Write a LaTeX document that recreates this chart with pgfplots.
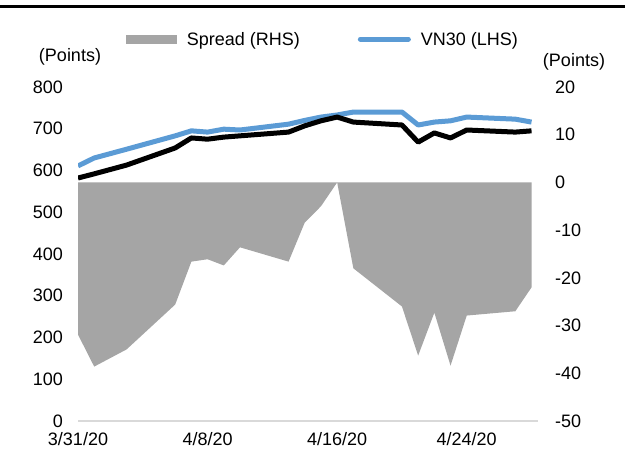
\documentclass[border=0pt]{standalone}
\usepackage{fontspec}
\setmainfont{Liberation Sans}
\usepackage{pgfplots}
\pgfplotsset{compat=1.18}

\definecolor{vnblue}{HTML}{5B9BD5}
\definecolor{spreadgray}{HTML}{A5A5A5}
\definecolor{axisgray}{HTML}{D9D9D9}

\newcommand{\chartfont}{\fontsize{18bp}{21bp}\selectfont}

% day index from 3/31/20; VN30 and VN30F1M (LHS), spread (RHS)
\pgfplotstableread{
day vn30 fut
0  611 582
1  630 592
3  651 613
6  683 654
7  695 678
8  692 675
9  699 680
10 697 683
13 711 692
14 720 707
15 728 719
16 733 728
17 740 716
20 740 709
21 709 668
22 716 690
23 719 678
24 728 697
27 723 692
28 716 695
}\lines

\pgfplotstableread{
day spread
0  0
0  -31.9
1  -38.6
3  -35.0
6  -25.6
7  -16.6
8  -16.1
9  -17.4
10 -13.6
13 -16.6
14 -8.4
15 -5.0
16 0
17 -18.0
20 -26.0
21 -36.3
22 -27.3
23 -38.4
24 -27.9
27 -27.0
28 -22.0
28 0
}\spread

\begin{document}
\begin{tikzpicture}
\path[use as bounding box] (0bp,0bp) rectangle (625bp,467bp);
\draw[line width=2.5bp] (0bp,460.5bp) -- (625bp,460.5bp);

% right axis: spread area
\begin{axis}[
    at={(78bp,46bp)}, anchor=south west,
    scale only axis, width=460bp, height=334bp,
    xmin=0, xmax=28.4,
    ymin=-50, ymax=20,
    hide x axis,
    axis y line*=right,
    y axis line style={draw=none},
    major tick length=0pt,
    ytick={-50,-40,-30,-20,-10,0,10,20},
    yticklabels={-50,-40,-30,-20,-10,0,10,20},
    yticklabel style={font=\chartfont, anchor=west, inner sep=0pt, xshift=17bp},
]
\addplot[fill=spreadgray, draw=none] table[x=day, y=spread] {\spread};
\end{axis}

% left axis: index lines
\begin{axis}[
    at={(78bp,46bp)}, anchor=south west,
    scale only axis, width=460bp, height=334bp,
    xmin=0, xmax=28.4,
    ymin=0, ymax=800,
    axis x line*=bottom,
    axis y line*=left,
    x axis line style={draw=axisgray, line width=1.5bp},
    y axis line style={draw=none},
    major tick length=0pt,
    xtick={0,8,16,24},
    xticklabels={3/31/20,4/8/20,4/16/20,4/24/20},
    xticklabel style={font=\chartfont, anchor=north, inner sep=0pt, yshift=-11bp},
    ytick={0,100,...,800},
    yticklabels={0,100,200,300,400,500,600,700,800},
    yticklabel style={font=\chartfont, anchor=east, inner sep=0pt, xshift=-15bp},
    legend columns=2,
    legend style={at={(0.533,1.143)}, anchor=center, draw=none, fill=none,
        font=\chartfont, inner sep=0pt,
        /tikz/every odd column/.append style={column sep=8bp},
        /tikz/every even column/.append style={column sep=56bp}},
]
\addlegendimage{legend image code/.code={\fill[spreadgray] (0bp,-4bp) rectangle (50bp,4bp);}}
\addlegendentry{Spread (RHS)}
\addplot[vnblue, line width=5bp, line join=round,
    legend image code/.code={\draw[vnblue, line width=5bp, line cap=round] (2bp,0bp) -- (50bp,0bp);}]
    table[x=day, y=vn30] {\lines};
\addlegendentry{VN30 (LHS)}
\addplot[black, line width=5bp, line join=round, forget plot] table[x=day, y=fut] {\lines};
\end{axis}

\node[font=\chartfont] at (70bp,410bp) {(Points)};
\node[font=\chartfont] at (574bp,405bp) {(Points)};
\end{tikzpicture}
\end{document}
